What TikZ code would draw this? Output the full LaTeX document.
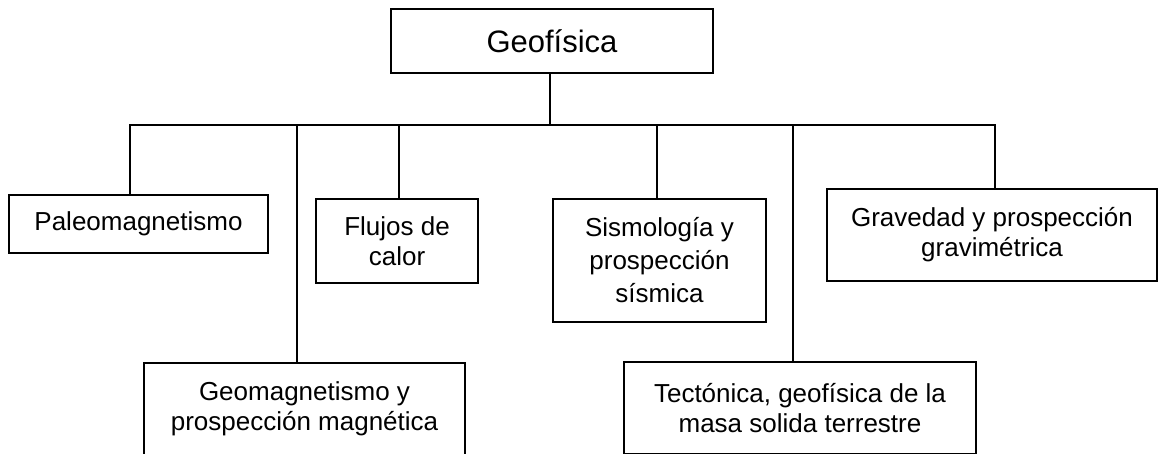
\documentclass[tikz,border=0pt]{standalone}
\usepackage{fontspec}
\setmainfont{Liberation Sans}
\begin{document}
\begin{tikzpicture}[x=1pt,y=-1pt,
  box/.style={draw=black,line width=2.2pt,inner sep=0pt,align=center,
    font=\fontsize{26}{30}\selectfont},
  link/.style={draw=black,line width=2.2pt}]
\useasboundingbox (0,0) rectangle (1159,453);
\clip (0,0) rectangle (1159,453);
\node[box,minimum width=322pt,minimum height=64pt,font=\fontsize{31}{33}\selectfont] (top) at (552,41) {Geofísica};
\node[box,minimum width=259pt,minimum height=58pt] (paleo) at (138.5,224) {Paleomagnetismo};
\node[box,minimum width=162pt,minimum height=84pt] (flujos) at (397,241) {\raisebox{-4pt}{\shortstack{Flujos de\\[3pt]calor}}};
\node[box,minimum width=213pt,minimum height=123pt,font=\fontsize{26}{33}\selectfont] (sismo) at (659.5,260.5) {Sismología y\\prospección\\sísmica};
\node[box,minimum width=330pt,minimum height=92pt] (grav) at (992,235) {Gravedad y prospección\\gravimétrica};
\node[box,minimum width=321pt,minimum height=92pt] (geomag) at (304.5,409) {Geomagnetismo y\\prospección magnética};
\node[box,minimum width=352pt,minimum height=92pt] (tect) at (800,408) {Tectónica, geofísica de la\\masa solida terrestre};
\coordinate (bt) at (550,125);
\coordinate (bl) at (129,125);
\coordinate (br) at (996,125);
\coordinate (b1) at (130,125);
\coordinate (b2) at (297,125);
\coordinate (b3) at (399,125);
\coordinate (b4) at (657,125);
\coordinate (b5) at (793,125);
\coordinate (b6) at (995,125);
\draw[link] (bt |- top.south) -- (bt);
\draw[link] (bl) -- (br);
\draw[link] (b1) -- (b1 |- paleo.north);
\draw[link] (b2) -- (b2 |- geomag.north);
\draw[link] (b3) -- (b3 |- flujos.north);
\draw[link] (b4) -- (b4 |- sismo.north);
\draw[link] (b5) -- (b5 |- tect.north);
\draw[link] (b6) -- (b6 |- grav.north);
\end{tikzpicture}
\end{document}
